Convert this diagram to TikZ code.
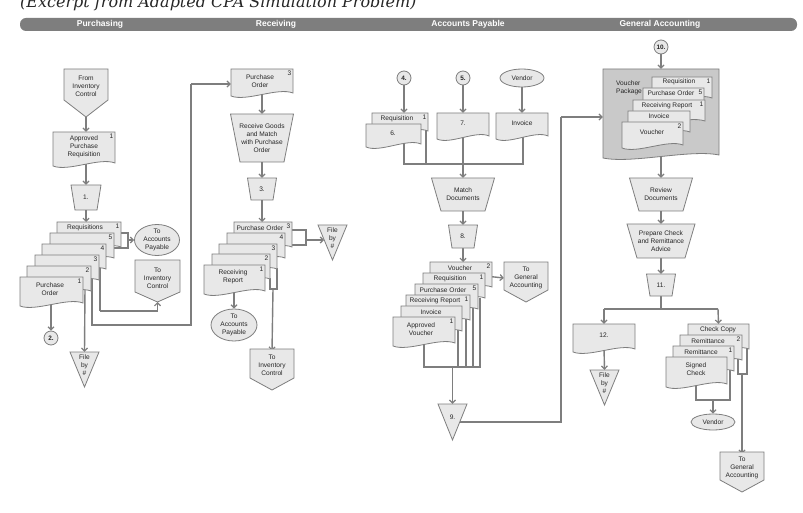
\documentclass[tikz,border=0pt]{standalone}
\usepackage{fontspec}
\setmainfont{Liberation Sans}
\newfontfamily\ttlfont{DejaVu Serif}
\usetikzlibrary{arrows.meta,shapes.geometric,backgrounds}
\definecolor{lc}{HTML}{7E7E7E}
\definecolor{sf}{HTML}{E8E8E8}
\definecolor{vpf}{HTML}{C9C9C9}
\tikzset{
 ln/.style={draw=lc,line width=1.4pt},
 arr/.style={ln,-{Straight Barb[length=3pt,width=6pt,line width=1.2pt]}},
 shp/.style={draw=lc,fill=sf,line width=0.8pt},
 dark/.style={draw=lc,fill=vpf,line width=0.8pt},
 t/.style={font=\fontsize{6.6}{7.8}\selectfont,align=center,inner sep=0pt,text=black!85},
 bx/.style={inner sep=0pt},
 hd/.style={font=\fontsize{8.5}{9}\selectfont\bfseries,text=white,inner sep=0pt}
}
% document shape: [style]{name}{xl}{xr}{top}{bot}{num}
\newcommand\Doc[7][shp]{%
 \pgfmathsetmacro\dm{(#3+#4)/2}\pgfmathsetmacro\dq{(#4-#3)/4}%
 \path[#1] (#3,#5) -- (#4,#5) -- (#4,#6-3) .. controls ({\dm+\dq},#6-9) and ({\dm-\dq},#6+6) .. (#3,#6) -- cycle;
 \node[bx,minimum width={(#4-#3)*1pt},minimum height={(#6-#5)*1pt}] (#2) at (\dm,{(#5+#6)/2}) {};
 \node[t,anchor=north east] (#2-n) at ({#4-1.5},{#5+1.5}) {#7};
}
% manual operation: {name}{cx}{top}{wt}{wb}{bot}{text}
\newcommand\Man[7]{%
 \path[shp] ({#2-#4/2},#3) -- ({#2+#4/2},#3) -- ({#2+#5/2},#6) -- ({#2-#5/2},#6) -- cycle;
 \node[t,minimum width={#5*1pt},minimum height={(#6-#3)*1pt}] (#1) at (#2,{(#3+#6)/2}) {#7};
}
% off-page connector: {name}{xl}{xr}{top}{rectbottom}{tip}{text}
\newcommand\Off[7]{%
 \path[shp] (#2,#4) -- (#3,#4) -- (#3,#5) -- ({(#2+#3)/2},#6) -- (#2,#5) -- cycle;
 \node[t,minimum width={(#3-#2)*1pt},minimum height={(#5-#4)*1pt}] (#1) at ({(#2+#3)/2},{(#4+#5)/2+2}) {#7};
 \coordinate (#1-tip) at ({(#2+#3)/2},#6);
}
% file triangle: {name}{xl}{xr}{top}{bot}{text}
\newcommand\Tri[6]{%
 \path[shp] (#2,#4) -- (#3,#4) -- ({(#2+#3)/2},#5) -- cycle;
 \node[bx,minimum width={(#3-#2)*1pt},minimum height={(#5-#4)*1pt}] (#1) at ({(#2+#3)/2},{(#4+#5)/2}) {};
 \node[t,anchor=north] (#1-t) at ({(#2+#3)/2},{#4+3}) {#6};
}
\begin{document}
\begin{tikzpicture}[x=1pt,y=-1pt]
\useasboundingbox (0,0) rectangle (803,513);
% title
\node[anchor=base west,inner sep=0pt,font=\ttlfont\itshape\fontsize{16}{17}\selectfont,text=black!85] (title) at (20,8) {(Excerpt from Adapted CPA Simulation Problem)};
% header bar
\fill[lc,rounded corners=6pt] (20,18) rectangle (797,31);
\node[hd] (h1) at (100,24.5) {Purchasing};
\node[hd] (h2) at (276,24.5) {Receiving};
\node[hd] (h3) at (468,24.5) {Accounts Payable};
\node[hd] (h4) at (660,24.5) {General Accounting};

% ===== Purchasing =====
\Off{FIC}{64}{108}{69}{100}{117}{From\\Inventory\\Control}
\Doc{APR}{53}{115}{132}{166}{1}
\node[t] (APR-t) at (84,147) {Approved\\Purchase\\Requisition};
\Man{M1}{86}{185}{30}{22}{210}{1.}
\Doc{PA}{57}{121}{222}{250}{1}
\node[t] (PA-t) at (85,228) {Requisitions};
\Doc{PB}{50}{114}{233}{261}{5}
\Doc{PC}{42}{106}{244}{272}{4}
\Doc{PD}{35}{99}{255}{283}{3}
\Doc{PE}{27}{91}{266}{294}{2}
\Doc{PO}{20}{83}{277}{306}{1}
\node[t] (PO-t) at (50,289) {Purchase\\Order};
\node[ellipse,shp,t,minimum width=45pt,minimum height=31pt] (TAP1) at (157,240) {To\\Accounts\\Payable};
\Off{TIC1}{135}{180}{260}{292}{302}{To\\Inventory\\Control}
\node[circle,shp,t,minimum size=14pt,font=\fontsize{6.4}{7}\selectfont\bfseries] (C2) at (51,338) {2.};
\Tri{FT1}{70}{99}{352}{387}{File\\by\\\#}

% ===== Receiving =====
\Doc{RPO}{231}{293}{69}{96}{3}
\node[t] (RPO-t) at (260,81) {Purchase\\Order};
\Man{RG}{262}{114}{63}{44}{162}{Receive Goods\\and Match\\with Purchase\\Order}
\Man{M3}{262}{178}{29}{22}{200}{3.}
\Doc{RA}{234}{292}{222}{250}{3}
\node[t] (RA-t) at (260,228) {Purchase Order};
\Doc{RB}{227}{285}{233}{261}{4}
\Doc{RC}{219}{277}{244}{272}{3}
\Doc{RD}{212}{270}{254}{282}{2}
\Doc{RR}{204}{265}{265}{294}{1}
\node[t] (RR-t) at (233,277) {Receiving\\Report};
\Tri{FT2}{318}{347}{225}{260}{File\\by\\\#}
\node[ellipse,shp,t,minimum width=46pt,minimum height=32pt] (TAP2) at (234,325) {To\\Accounts\\Payable};
\Off{TIC2}{250}{294}{349}{378}{390}{To\\Inventory\\Control}

% ===== Accounts Payable =====
\node[circle,shp,t,minimum size=14pt,font=\fontsize{6.4}{7}\selectfont\bfseries] (C4) at (404,78) {4.};
\node[circle,shp,t,minimum size=14pt,font=\fontsize{6.4}{7}\selectfont\bfseries] (C5) at (463,78) {5.};
\node[ellipse,shp,t,minimum width=44pt,minimum height=18pt] (V1) at (522,78) {Vendor};
\Doc{AQ}{372}{428}{113}{134}{1}
\node[t] (AQ-t) at (397,119) {Requisition};
\Doc{D6}{366}{421}{124}{147}{}
\node[t] (D6-t) at (393,133) {6.};
\Doc{D7}{437}{489}{113}{139}{}
\node[t] (D7-t) at (463,123) {7.};
\Doc{AI}{496}{548}{113}{139}{}
\node[t] (AI-t) at (522,123) {Invoice};
\Man{MD}{463}{178}{63}{44}{211}{Match\\Documents}
\Man{M8}{463}{225}{29}{22}{248}{8.}
\Doc{AV1}{430}{492}{262}{290}{2}
\node[t] (AV1-t) at (460,268) {Voucher};
\Doc{AV2}{423}{485}{273}{301}{1}
\node[t] (AV2-t) at (450,279) {Requisition};
\Doc{AV3}{415}{478}{284}{312}{5}
\node[t] (AV3-t) at (443,290) {Purchase Order};
\Doc{AV4}{406}{470}{295}{323}{1}
\node[t] (AV4-t) at (435,301) {Receiving Report};
\Doc{AV5}{401}{462}{306}{334}{}
\node[t] (AV5-t) at (431,312) {Invoice};
\Doc{AV6}{393}{455}{317}{346}{1}
\node[t] (AV6-t) at (421,329) {Approved\\Voucher};
\Off{TGA1}{504}{548}{262}{290}{302}{To\\General\\Accounting}
\Tri{T9}{438}{467}{404}{440}{}
\node[t] (T9-t) at (452.5,417) {9.};

% ===== General Accounting =====
\node[circle,shp,t,minimum size=14pt,font=\fontsize{6.4}{7}\selectfont\bfseries] (C10) at (661,47) {10.};
\Doc[dark]{VP}{603}{719}{69}{158}{}
\node[t,align=left] (VP-t) at (629,88) {Voucher\\Package};
\Doc{GA}{652}{712}{77}{101}{1}
\node[t] (GA-t) at (679,82) {Requisition};
\Doc{GB}{643}{704}{88}{112}{5}
\node[t] (GB-t) at (671,93.5) {Purchase Order};
\Doc{GC}{633}{705}{100}{124}{1}
\node[t] (GC-t) at (667,105.5) {Receiving Report};
\Doc{GD}{628}{690}{111}{135}{}
\node[t] (GD-t) at (659,116.5) {Invoice};
\Doc{GE}{622}{683}{122}{148}{2}
\node[t] (GE-t) at (652,132) {Voucher};
\Man{RDc}{661}{178}{63}{44}{211}{Review\\Documents}
\Man{PCk}{661}{224}{68}{48}{258}{Prepare Check\\and Remittance\\Advice}
\Man{M11}{661}{274}{29}{22}{296}{11.}
\Doc{D12}{573}{635}{324}{352}{}
\node[t] (D12-t) at (604,335) {12.};
\Tri{FT3}{590}{619}{370}{405}{File\\by\\\#}
\Doc{CA}{688}{749}{324}{352}{}
\node[t] (CA-t) at (718,330) {Check Copy};
\Doc{CB}{680}{742}{335}{363}{2}
\node[t] (CB-t) at (708,341) {Remittance};
\Doc{CC}{673}{734}{346}{374}{1}
\node[t] (CC-t) at (701,352) {Remittance};
\Doc{SC}{666}{727}{357}{387}{}
\node[t] (SC-t) at (696,369) {Signed\\Check};
\node[ellipse,shp,t,minimum width=44pt,minimum height=16pt] (V2) at (713,422) {Vendor};
\Off{TGA2}{720}{764}{452}{480}{492}{To\\General\\Accounting}

% ===== connectors =====
\begin{pgfonlayer}{background}
\fill[white] (0,0) rectangle (803,513);
% Purchasing
\draw[arr] (FIC-tip) -- (FIC-tip |- APR.north);
\draw[arr] (86,163) -- (M1.north);
\draw[arr] (M1.south) -- (86,222);
\draw[ln] (118,233) -- (128,233) -- (128,248) -- (110,248);
\draw[arr] (128,240) -- (TAP1.west);
\draw[ln] (100,262) -- (100,311);
\draw[arr] (100,311) -| (TIC1-tip);
\draw[ln] (92,275) -- (92,325) -- (191,325) -- (191,84);
\draw[arr] (191,84) -- (RPO.west |- 0,84);
\draw[arr] (85,288) -- (FT1.north);
\draw[arr] (C2.north |- 0,303) -- (C2.north);
% Receiving
\draw[arr] (262,94) -- (RG.north);
\draw[arr] (RG.south) -- (M3.north);
\draw[arr] (M3.south) -- (262,222);
\draw[ln] (289,230) -- (306,230) -- (306,245) -- (282,245);
\draw[arr] (306,240) -- (324,240);
\draw[arr] (234,290) -- (TAP2.north);
\draw[ln] (270,278) -- (270,289) -- (277,289) -- (277,268);
\draw[arr] (273,289) -- (TIC2.north);
% Accounts Payable
\draw[arr] (C4.south) -- (C4.south |- AQ.north);
\draw[arr] (C5.south) -- (D7.north);
\draw[arr] (V1.south) -- (AI.north);
\draw[ln] (404,140) -- (404,164) -- (523,164) -- (523,134);
\draw[ln] (426,128) -- (426,164);
\draw[arr] (463,134) -- (MD.north);
\draw[arr] (MD.south) -- (M8.north);
\draw[arr] (M8.south) -- (463,262);
\draw[arr] (485,276) -- (TGA1.west);
\draw[ln] (424,340) -- (424,367) -- (480,367) -- (480,298);
\draw[ln] (458,330) -- (458,367);
\draw[ln] (466,318) -- (466,367);
\draw[ln] (473,308) -- (473,367);
\draw[arr] (452.5,367) -- (T9.north);
\draw[ln] (T9.center) ++(7,0) -- (561,422) -- (561,117);
\draw[arr] (561,117) -- (VP.west |- 0,117);
% General Accounting
\draw[arr] (C10.south) -- (VP.north);
\draw[arr] (661,152) -- (RDc.north);
\draw[arr] (RDc.south) -- (PCk.north);
\draw[arr] (PCk.south) -- (M11.north);
\draw[ln] (M11.south) -- (661,309);
\draw[ln] (604,309) -- (718,309);
\draw[arr] (604,309) -- (D12.north);
\draw[arr] (718,309) -- (CA.north);
\draw[arr] (604,348) -- (FT3.north);
\draw[ln] (696,382) -- (696,400) -- (730,400) -- (730,370);
\draw[arr] (713,400) -- (V2.north);
\draw[ln] (738,358) -- (738,374) -- (747,374) -- (747,346);
\draw[arr] (742,374) -- (TGA2.north);
\end{pgfonlayer}
\end{tikzpicture}
\end{document}
